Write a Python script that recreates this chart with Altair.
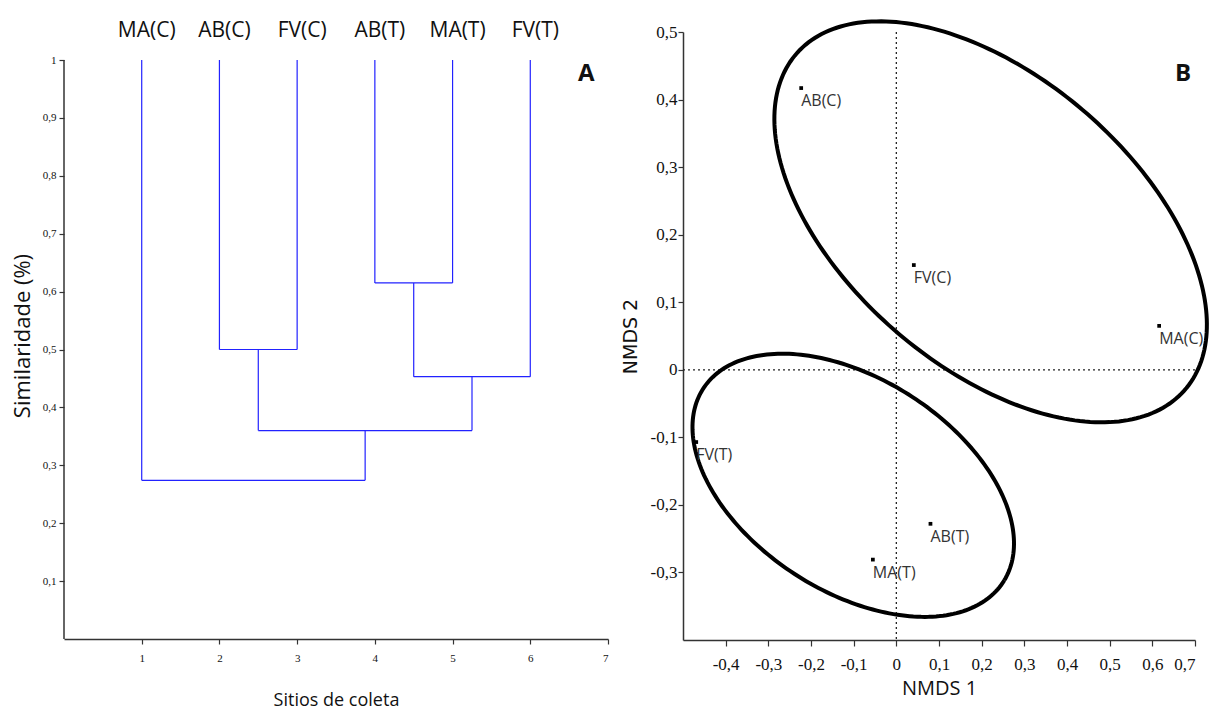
import altair as alt
import numpy as np
import pandas as pd

# ---------------- Panel A: dendrogram data ----------------
leaf_names = ["MA(C)", "AB(C)", "FV(C)", "AB(T)", "MA(T)", "FV(T)"]
leaf_pos = [1, 2, 3, 4, 5, 6]
# merges: node ids (0-5 leaves, 6.. created nodes), similarity level
merge_left = [1, 3, 7, 6, 0]
merge_right = [2, 4, 5, 8, 9]
merge_height = [0.500, 0.615, 0.453, 0.360, 0.274]

sim_ticks = [0.1, 0.2, 0.3, 0.4, 0.5, 0.6, 0.7, 0.8, 0.9, 1.0]
site_ticks = [1, 2, 3, 4, 5, 6, 7]

panel_a_label = ["A"]
panel_a_x = [6.72]
panel_a_y = [0.976]

# ---------------- Panel B: NMDS data ----------------
nmds_sites = ["AB(C)", "FV(C)", "MA(C)", "FV(T)", "MA(T)", "AB(T)"]
nmds1 = [-0.223, 0.041, 0.616, -0.469, -0.055, 0.080]
nmds2 = [0.417, 0.155, 0.065, -0.107, -0.281, -0.228]

nmds1_ticks = [-0.4, -0.3, -0.2, -0.1, 0.0, 0.1, 0.2, 0.3, 0.4, 0.5, 0.6, 0.7]
nmds2_ticks = [-0.3, -0.2, -0.1, 0.0, 0.1, 0.2, 0.3, 0.4, 0.5]

# group ellipses: centre and two conjugate semi-diameters (NMDS units)
ell_group = ["C", "T"]
ell_cx = [0.221, -0.101]
ell_cy = [0.219, -0.171]
ell_ux = [0.459, 0.354]
ell_uy = [-0.246, -0.1407]
ell_vx = [-0.215, -0.129]
ell_vy = [-0.166, -0.1347]

panel_b_label = ["B"]
panel_b_x = [0.672]
panel_b_y = [0.438]

# ---------------- build tables ----------------
node_x = list(map(float, leaf_pos))
node_h = [1.0] * len(leaf_pos)
segs = []
for l, r, h in zip(merge_left, merge_right, merge_height):
    segs.append(dict(x=node_x[l], x2=node_x[l], y=node_h[l], y2=h))
    segs.append(dict(x=node_x[r], x2=node_x[r], y=node_h[r], y2=h))
    segs.append(dict(x=node_x[l], x2=node_x[r], y=h, y2=h))
    node_x.append((node_x[l] + node_x[r]) / 2)
    node_h.append(h)
seg_df = pd.DataFrame(segs)
leaf_df = pd.DataFrame({"x": leaf_pos, "y": [1.0] * len(leaf_pos), "name": leaf_names})
a_df = pd.DataFrame({"x": panel_a_x, "y": panel_a_y, "t": panel_a_label})
yaxis_df = pd.DataFrame({"x": [0.0], "y": [0.0], "y2": [1.0]})

pts_df = pd.DataFrame({"x": nmds1, "y": nmds2, "name": nmds_sites})
t = np.linspace(0, 2 * np.pi, 241)
rows = []
for g, cx, cy, ux, uy, vx, vy in zip(ell_group, ell_cx, ell_cy, ell_ux, ell_uy, ell_vx, ell_vy):
    for i, tt in enumerate(t):
        rows.append(dict(g=g, i=i, x=cx + ux * np.cos(tt) + vx * np.sin(tt),
                         y=cy + uy * np.cos(tt) + vy * np.sin(tt)))
ell_df = pd.DataFrame(rows)
b_df = pd.DataFrame({"x": panel_b_x, "y": panel_b_y, "t": panel_b_label})
zero_df = pd.DataFrame({"x": [0.0], "y": [0.0]})

comma = "replace(replace(format(datum.value, '.1f'), '.', ','), '\u2212', '-')"

# ---------------- Panel A chart ----------------
ax_common = dict(domainColor="#333333", tickColor="#333333", domainWidth=1.5, tickWidth=1.2,
                 labelFont="Liberation Sans Narrow", labelFontSize=11, labelColor="#111111",
                 grid=False, titleFont="Open Sans", titleFontWeight="normal", titleColor="#111111")

xa = alt.X("x:Q", scale=alt.Scale(domain=[0, 7], nice=False, zero=False),
           axis=alt.Axis(values=site_ticks, title="Sitios de coleta", titleFontSize=18,
                         tickSize=5, labelPadding=8, titlePadding=28, format="d", **ax_common))
ya = alt.Y("y:Q", scale=alt.Scale(domain=[0, 1.0484], nice=False, zero=False),
           axis=alt.Axis(values=sim_ticks, title="Similaridade (%)", titleFontSize=22,
                         tickSize=5, labelPadding=3, titlePadding=8, domain=False,
                         labelExpr="datum.value >= 1 ? '1' : " + comma, **ax_common))

yaxis_line = alt.Chart(yaxis_df).mark_rule(color="#333333", strokeWidth=1.5).encode(
    x=xa, y=ya, y2="y2:Q")
dendro = alt.Chart(seg_df).mark_rule(color="#2222ff", strokeWidth=1.2).encode(
    x=xa, x2="x2:Q", y=ya, y2="y2:Q")
top_labels = alt.Chart(leaf_df).mark_text(font="Open Sans", fontSize=21, dx=5, dy=-29,
                                          color="#111111", baseline="middle").encode(
    x=xa, y=ya, text="name:N")
a_txt = alt.Chart(a_df).mark_text(font="Open Sans", fontSize=24, fontWeight="bold",
                                  color="#111111", baseline="middle").encode(
    x=xa, y=ya, text="t:N")
left = alt.layer(yaxis_line, dendro, top_labels, a_txt).properties(width=544, height=607)

# ---------------- Panel B chart ----------------
ax_b = dict(domainColor="#333333", tickColor="#333333", domainWidth=1.5, tickWidth=1.2,
            labelFont="Liberation Sans Narrow", labelFontSize=17, labelColor="#111111",
            grid=False, titleColor="#111111", titleFontWeight="normal")
xb = alt.X("x:Q", scale=alt.Scale(domain=[-0.5, 0.7], nice=False, zero=False),
           axis=alt.Axis(values=nmds1_ticks, title="NMDS 1", titleFont="Open Sans",
                         titleFontSize=20, tickSize=6, labelPadding=10, titlePadding=6,
                         labelExpr="datum.value == 0 ? '0' : " + comma, **ax_b))
yb = alt.Y("y:Q", scale=alt.Scale(domain=[-0.4, 0.5], nice=False, zero=False),
           axis=alt.Axis(values=nmds2_ticks, title="NMDS 2", titleFont="DejaVu Sans",
                         titleFontSize=19, tickSize=5, labelPadding=1, titlePadding=10,
                         labelExpr="datum.value == 0 ? '0' : " + comma, **ax_b))

vline = alt.Chart(zero_df).mark_rule(color="#222222", strokeWidth=1.3, strokeDash=[2, 3]).encode(x=xb)
hline = alt.Chart(zero_df).mark_rule(color="#222222", strokeWidth=1.3, strokeDash=[2, 3]).encode(y=yb)
ells = alt.Chart(ell_df).mark_line(color="black", strokeWidth=4).encode(
    x=xb, y=yb, detail="g:N", order="i:Q")
pts = alt.Chart(pts_df).mark_square(size=14, color="black", opacity=1).encode(x=xb, y=yb)
pt_labels = alt.Chart(pts_df).mark_text(font="Open Sans", fontSize=16, align="left",
                                        baseline="middle", dx=0, dy=13, color="#333333").encode(
    x=xb, y=yb, text="name:N")
b_txt = alt.Chart(b_df).mark_text(font="Open Sans", fontSize=24, fontWeight="bold",
                                  color="#111111", baseline="middle").encode(
    x=xb, y=yb, text="t:N")
right = alt.layer(vline, hline, ells, pts, pt_labels, b_txt).properties(width=512, height=608)

chart = alt.hconcat(left, right, spacing=12).properties(
    padding={"left": 3, "top": 5, "right": 0, "bottom": 0}
).configure(background="white").configure_view(stroke=None, strokeWidth=0)

chart.save("out.html", embed_options={"renderer": "svg", "actions": False})
